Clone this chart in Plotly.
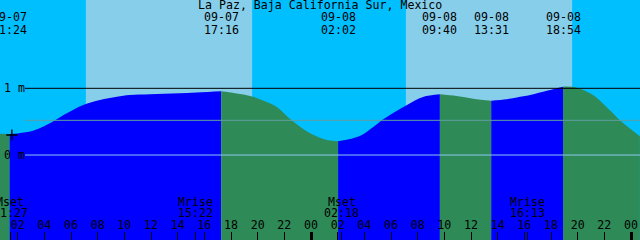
import pandas as pd
import plotly.graph_objects as go

# ---------------- data ----------------
title_text = "La Paz, Baja California Sur, Mexico"
x_start = "2024-09-07 00:40:30"
x_end = "2024-09-09 00:40:30"

# tide heights (metres)
read_times = [
    "2024-09-07 00:40", "2024-09-07 03:10", "2024-09-07 04:25", "2024-09-07 04:48",
    "2024-09-07 05:41", "2024-09-07 06:55", "2024-09-07 08:10", "2024-09-07 09:26",
    "2024-09-07 10:25", "2024-09-07 11:55", "2024-09-07 14:10", "2024-09-07 18:40",
    "2024-09-07 19:39", "2024-09-07 20:10", "2024-09-07 21:26", "2024-09-07 22:33",
    "2024-09-07 23:56", "2024-09-08 01:11", "2024-09-08 03:40", "2024-09-08 04:40",
    "2024-09-08 05:25", "2024-09-08 05:55", "2024-09-08 07:12", "2024-09-08 08:24",
    "2024-09-08 10:55", "2024-09-08 12:10", "2024-09-08 14:41", "2024-09-08 15:41",
    "2024-09-08 16:11", "2024-09-08 17:25", "2024-09-08 19:56", "2024-09-08 21:09",
    "2024-09-08 22:25", "2024-09-08 23:10", "2024-09-09 00:40",
]
read_heights = [
    0.32, 0.365, 0.475, 0.52,
    0.625, 0.75, 0.825, 0.875,
    0.90, 0.91, 0.925, 0.915,
    0.875, 0.835, 0.72, 0.52,
    0.325, 0.225, 0.285, 0.42,
    0.535, 0.60, 0.75, 0.87,
    0.885, 0.845, 0.835, 0.875,
    0.89, 0.95, 1.01, 0.90,
    0.67, 0.52, 0.28,
]

# high / low tide events
event_times = ["2024-09-07 01:24", "2024-09-07 17:16", "2024-09-08 02:02",
               "2024-09-08 09:40", "2024-09-08 13:31", "2024-09-08 18:54"]
event_heights = [0.315, 0.955, 0.205, 0.91, 0.815, 1.025]
event_dates = ["09-07", "09-07", "09-08", "09-08", "09-08", "09-08"]
event_clock = ["01:24", "17:16", "02:02", "09:40", "13:31", "18:54"]

# moon events
moon_times = ["2024-09-07 01:27", "2024-09-07 15:22", "2024-09-08 02:18", "2024-09-08 16:13"]
moon_names = ["Mset", "Mrise", "Mset", "Mrise"]
moon_clock = ["01:27", "15:22", "02:18", "16:13"]

# daylight periods
day_starts = ["2024-09-07 07:07", "2024-09-08 07:07"]
day_ends = ["2024-09-07 19:35", "2024-09-08 19:35"]

# reference levels
levels = [1.0, 0.52, 0.0]
level_labels = ["1 m", "", "0 m"]
level_colors = ["#000000", "#5F9EA0", "#8EC8F0"]

# marker
mark_time = ["2024-09-07 01:34"]
mark_height = [0.30]

# ---------------- style ----------------
FONT = "DejaVu Sans Mono"
FS = 11.6
W, H = 640, 240
Y_MIN, Y_MAX = -1.274, 2.324
NIGHT = "#00BFFF"
DAY = "#87CEEB"
RISE = "#0000FF"
FALL = "#2E8B57"


def ypaper(px):
    return 1 - px / H


fig = go.Figure()

# combined tide series
series = pd.DataFrame({
    "t": pd.to_datetime(read_times + event_times),
    "h": read_heights + event_heights,
}).sort_values("t").reset_index(drop=True)

bounds = [series["t"].iloc[0]] + list(pd.to_datetime(event_times)) + [series["t"].iloc[-1]]
for b0, b1 in zip(bounds[:-1], bounds[1:]):
    seg = series[(series["t"] >= b0) & (series["t"] <= b1)]
    if len(seg) < 2:
        continue
    rising = seg["h"].iloc[-1] > seg["h"].iloc[0]
    color = RISE if rising else FALL
    fig.add_trace(go.Scatter(
        x=[seg["t"].iloc[0], seg["t"].iloc[-1]], y=[Y_MIN, Y_MIN],
        mode="lines", line=dict(width=0, color=color), hoverinfo="skip", showlegend=False))
    fig.add_trace(go.Scatter(
        x=seg["t"], y=seg["h"], mode="lines",
        line=dict(width=0, color=color, shape="spline", smoothing=1.0),
        fill="tonexty", fillcolor=color, hoverinfo="skip", showlegend=False))

# the "+" mark
fig.add_trace(go.Scatter(
    x=pd.to_datetime(mark_time), y=mark_height, mode="markers",
    marker=dict(symbol="cross-thin", size=8, line=dict(color="black", width=1.3)),
    showlegend=False, hoverinfo="skip"))

# invisible traces to anchor the extra tick axes
fig.add_trace(go.Scatter(x=[x_start], y=[Y_MIN], xaxis="x2", mode="markers",
                         marker=dict(opacity=0), showlegend=False, hoverinfo="skip"))
fig.add_trace(go.Scatter(x=[x_start], y=[Y_MIN], xaxis="x3", mode="markers",
                         marker=dict(opacity=0), showlegend=False, hoverinfo="skip"))

# daylight shading
for s, e in zip(day_starts, day_ends):
    fig.add_shape(type="rect", xref="x", yref="paper", x0=s, x1=e, y0=0, y1=1,
                  fillcolor=DAY, line=dict(width=0), layer="below")

# level lines
for lv, lc in zip(levels, level_colors):
    fig.add_shape(type="line", xref="paper", yref="y", x0=25 / W, x1=1, y0=lv, y1=lv,
                  line=dict(color=lc, width=1), layer="above")

annotations = []
for lv, lab in zip(levels, level_labels):
    if lab:
        annotations.append(dict(x=2 / W, xref="paper", xanchor="left", y=lv, yref="y",
                                yanchor="middle", text=lab, showarrow=False,
                                font=dict(family=FONT, size=FS, color="black")))

annotations.append(dict(x=0.5, xref="paper", y=ypaper(5), yref="paper", yanchor="middle",
                        text=title_text, showarrow=False,
                        font=dict(family=FONT, size=FS, color="black")))
for t, d, c in zip(event_times, event_dates, event_clock):
    annotations.append(dict(x=t, xref="x", y=ypaper(17), yref="paper", yanchor="middle",
                            text=d, showarrow=False, font=dict(family=FONT, size=FS, color="black")))
    annotations.append(dict(x=t, xref="x", y=ypaper(29.5), yref="paper", yanchor="middle",
                            text=c, showarrow=False, font=dict(family=FONT, size=FS, color="black")))
for t, n, c in zip(moon_times, moon_names, moon_clock):
    annotations.append(dict(x=t, xref="x", y=ypaper(202), yref="paper", yanchor="middle",
                            text=n, showarrow=False, font=dict(family=FONT, size=FS, color="black")))
    annotations.append(dict(x=t, xref="x", y=ypaper(213), yref="paper", yanchor="middle",
                            text=c, showarrow=False, font=dict(family=FONT, size=FS, color="black")))

fig.update_layout(
    width=W, height=H,
    margin=dict(l=0, r=0, t=0, b=0, pad=0),
    paper_bgcolor=NIGHT, plot_bgcolor=NIGHT,
    showlegend=False,
    xaxis=dict(type="date", range=[x_start, x_end], showgrid=False, zeroline=False,
               showline=False, ticks="inside", ticklen=8, tickwidth=1, tickcolor="black",
               tick0="2024-09-07 00:00", dtick=7200000, tickformat="%H",
               ticklabelposition="inside", ticklabelstandoff=0,
               tickfont=dict(family=FONT, size=FS, color="black")),
    xaxis2=dict(type="date", range=[x_start, x_end], overlaying="x", anchor="y",
                showgrid=False, zeroline=False, showline=False, ticks="inside", ticklen=8,
                tickwidth=3, tickcolor="black", tick0="2024-09-07 00:00", dtick=86400000,
                showticklabels=False, side="bottom"),
    xaxis3=dict(type="date", range=[x_start, x_end], overlaying="x", anchor="y",
                showgrid=False, zeroline=False, showline=False, ticks="inside", ticklen=8,
                tickwidth=1, tickcolor="black", tickmode="array", tickvals=moon_times,
                showticklabels=False, side="bottom"),
    yaxis=dict(range=[Y_MIN, Y_MAX], visible=False, fixedrange=True),
    annotations=annotations,
)

fig.write_html("out.html")
